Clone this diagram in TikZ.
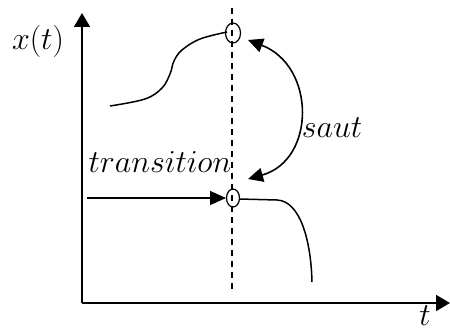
\RequirePackage{fix-cm}
\documentclass[tikz,border=0pt]{standalone}
\usetikzlibrary{arrows.meta}
\begin{document}
\begin{tikzpicture}[x=1pt,y=-1pt,
  ln/.style={line width=1.5pt},
  ax/.style={line width=1.8pt,-{Triangle[length=14pt,width=16pt]}},
  tr/.style={line width=1.3pt,-{Triangle[length=16pt,width=14pt]}},
  sa/.style={line width=1.6pt,{Triangle[length=15pt,width=14pt]}-{Triangle[length=15pt,width=14pt]}},
  lbl/.style={inner sep=0pt,font=\fontsize{32}{36}\selectfont}]
\useasboundingbox (0,0) rectangle (450,331);
% axes
\coordinate (O) at (82,303);
\coordinate (Ytip) at (82,13);
\coordinate (Xtip) at (450,303);
\draw[ax] (O) -- (Ytip);
\draw[ax] (O) -- (Xtip);
\node[lbl] (xlab) at (38,42) {$x(t)$};
\node[lbl,anchor=base] (tlab) at (425,325) {$t$};
% dashed line
\coordinate (dtop) at (232,8);
\coordinate (dbot) at (232,293);
\draw[line width=1.3pt,dash pattern=on 6pt off 5pt] (dtop) -- (dbot);
% circles
\draw[line width=1.2pt] (233,33) ellipse [x radius=7.5, y radius=10];
\node[inner sep=0pt] (c1) at (233,33) {};
\draw[line width=1.2pt] (233,198) ellipse [x radius=6.5, y radius=9];
\node[inner sep=0pt] (c2) at (233,198) {};
% top curve
\draw[ln] plot[smooth,tension=0.6] coordinates {(110,106) (145,99) (162,88) (170,74) (174,61) (182,50) (200,39) (227,32)};
% bottom curve
\coordinate (b0) at (239,199);
\coordinate (b1) at (277,200);
\coordinate (b2) at (312,282);
\draw[ln] (b0) -- (b1) .. controls (300,201) and (311,240) .. (b2);
% transition arrow
\coordinate (ts) at (87,198);
\coordinate (te) at (226,198);
\draw[tr] (ts) -- (te);
\node[lbl,anchor=base] (trlab) at (160,173) {$transition$};
% saut arrow
\coordinate (s1) at (248,40);
\coordinate (s2) at (248,179);
\draw[sa] (s1) .. controls (316,66) and (316,160) .. (s2);
\node[lbl] (sautlab) at (332,128) {$saut$};
\end{tikzpicture}
\end{document}
